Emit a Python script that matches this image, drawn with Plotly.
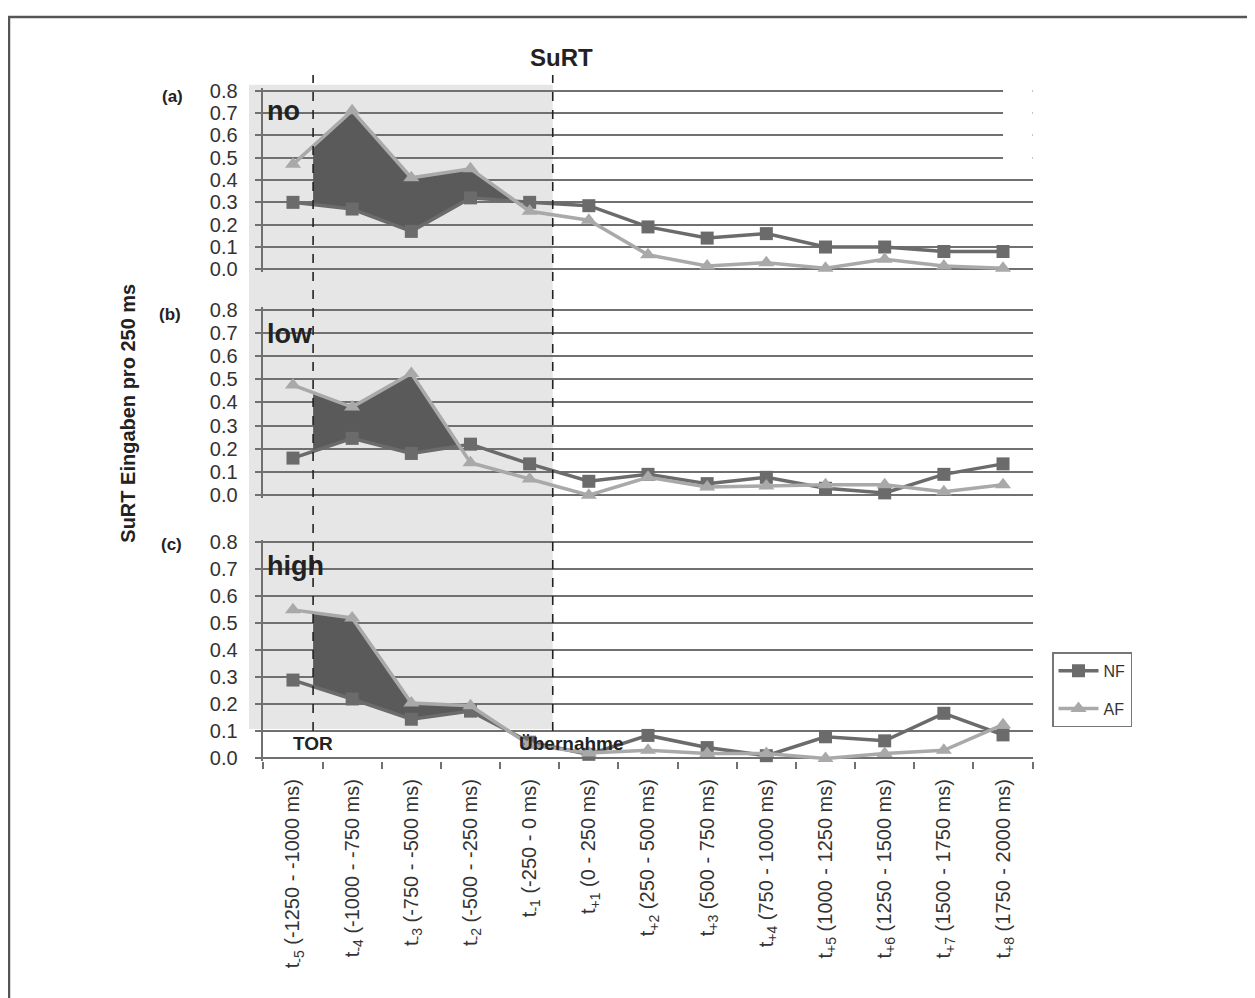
import plotly.graph_objects as go

W, H = 1255, 998
OFF = 8  # page body margin offset compensation (pixels)

# ---------------- data ----------------
sub_labels = ["-5", "-4", "-3", "-2", "-1", "+1", "+2", "+3", "+4", "+5", "+6", "+7", "+8"]
range_labels = ["(-1250 - -1000 ms)", "(-1000 - -750 ms)", "(-750 - -500 ms)", "(-500 - -250 ms)",
                "(-250 - 0 ms)", "(0 - 250 ms)", "(250 - 500 ms)", "(500 - 750 ms)",
                "(750 - 1000 ms)", "(1000 - 1250 ms)", "(1250 - 1500 ms)", "(1500 - 1750 ms)",
                "(1750 - 2000 ms)"]
tick_text = [f"t<sub>{s}</sub> {r}" for s, r in zip(sub_labels, range_labels)]

panel_names = ["no", "low", "high"]
panel_letters = ["(a)", "(b)", "(c)"]
series_names = ["NF", "AF"]

nf_no = [0.30, 0.27, 0.17, 0.32, 0.30, 0.285, 0.19, 0.14, 0.16, 0.10, 0.10, 0.08, 0.08]
af_no = [0.47, 0.71, 0.41, 0.45, 0.26, 0.22, 0.065, 0.015, 0.03, 0.005, 0.045, 0.015, 0.005]
nf_low = [0.16, 0.245, 0.18, 0.22, 0.135, 0.06, 0.09, 0.05, 0.077, 0.03, 0.01, 0.09, 0.135]
af_low = [0.475, 0.38, 0.525, 0.14, 0.07, 0.0, 0.077, 0.035, 0.04, 0.045, 0.045, 0.015, 0.045]
nf_high = [0.29, 0.22, 0.145, 0.175, 0.06, 0.015, 0.085, 0.04, 0.01, 0.08, 0.065, 0.167, 0.087]
af_high = [0.55, 0.52, 0.205, 0.195, 0.05, 0.02, 0.03, 0.018, 0.018, 0.0, 0.018, 0.03, 0.125]

nf_all = [nf_no, nf_low, nf_high]
af_all = [af_no, af_low, af_high]

tor_pos = 0.34        # TOR marker (category units)
takeover_pos = 4.39   # Übernahme marker (category units)

# ---------------- layout geometry ----------------
def px(x):
    return (x - OFF) / W

def py(y):
    return 1 - (y - OFF) / H

X_LEFT, X_RIGHT = 263.4, 1032.6           # pixel extent of the category axis
N = len(sub_labels)
def xpx(v):
    return X_LEFT + (v + 0.5) * (X_RIGHT - X_LEFT) / N

# pixel positions of y=0 and y=0.8 per panel
panel_px = [(265, 83), (495, 306), (763, 543)]
PAD = 0.01

NF_COLOR = "#6b6b6b"
AF_COLOR = "#a9a9a9"
FILL_COLOR = "#5a5a5a"
GRID_COLOR = "#707070"
FONT = "Liberation Sans, Arial, sans-serif"

fig = go.Figure()

yaxis_names = ["y", "y2", "y3"]

def crossing(nf, af, start):
    """first position after start where AF drops below NF (linear interpolation)"""
    i = int(start) + 1
    while i < len(nf):
        d0 = af[i - 1] - nf[i - 1]
        d1 = af[i] - nf[i]
        if d1 <= 0 < d0:
            return (i - 1) + d0 / (d0 - d1)
        i += 1
    return len(nf) - 1

def interp(arr, x):
    i = int(x)
    f = x - i
    if f == 0:
        return arr[i]
    return arr[i] + f * (arr[i + 1] - arr[i])

for k in range(3):
    nf, af = nf_all[k], af_all[k]
    ya = yaxis_names[k]
    xc = crossing(nf, af, tor_pos)
    xs = [tor_pos] + [i for i in range(N) if tor_pos < i < xc] + [xc]
    top = [interp(af, x) for x in xs]
    bot = [interp(nf, x) for x in xs]
    fig.add_trace(go.Scatter(
        x=xs + xs[::-1], y=top + bot[::-1], mode="lines", fill="toself",
        fillcolor=FILL_COLOR, line=dict(width=0), hoverinfo="skip",
        showlegend=False, xaxis="x", yaxis=ya))
    fig.add_trace(go.Scatter(
        x=list(range(N)), y=nf, mode="lines+markers", name=series_names[0],
        line=dict(color=NF_COLOR, width=3.5),
        marker=dict(symbol="square", size=13, color=NF_COLOR),
        showlegend=(k == 0), legendgroup="nf", cliponaxis=False,
        xaxis="x", yaxis=ya))
    fig.add_trace(go.Scatter(
        x=list(range(N)), y=af, mode="lines+markers", name=series_names[1],
        line=dict(color=AF_COLOR, width=3.5),
        marker=dict(symbol="triangle-up", size=14, color=AF_COLOR),
        showlegend=(k == 0), legendgroup="af", cliponaxis=False,
        xaxis="x", yaxis=ya))

layout_axes = {}
for k in range(3):
    p0, p8 = panel_px[k]
    kk = (p0 - p8) / 0.8
    bottom = p0 + PAD * kk
    topp = p8 - PAD * kk
    name = "yaxis" if k == 0 else f"yaxis{k + 1}"
    layout_axes[name] = dict(
        domain=[py(bottom), py(topp)],
        range=[-PAD, 0.8 + PAD],
        tickvals=[i / 10 for i in range(9)],
        ticktext=[f"{i / 10:.1f}" for i in range(9)],
        showgrid=True, gridcolor=GRID_COLOR, gridwidth=1.5,
        zeroline=False,
        showline=True, linecolor=GRID_COLOR, linewidth=1.5,
        ticks="outside", ticklen=7, tickcolor=GRID_COLOR, tickwidth=1.5,
        ticklabelstandoff=13,
        tickfont=dict(family=FONT, size=20, color="#333333"),
        anchor="x", fixedrange=True,
    )

fig.update_layout(
    width=W, height=H, autosize=False,
    margin=dict(l=0, r=0, t=0, b=0),
    paper_bgcolor="white", plot_bgcolor="rgba(0,0,0,0)",
    xaxis=dict(
        domain=[px(X_LEFT), px(X_RIGHT)], range=[-0.5, N - 0.5],
        tickmode="array", tickvals=list(range(N)), ticktext=tick_text,
        tickangle=-90, ticks="", showgrid=False, zeroline=False, showline=False,
        ticklabelstandoff=13,
        tickfont=dict(family=FONT, size=20, color="#333333"),
        minor=dict(tickmode="array", tickvals=[i - 0.5 for i in range(N + 1)],
                   ticks="outside", ticklen=7, tickcolor=GRID_COLOR, tickwidth=1.5,
                   showgrid=False),
        anchor="y3", fixedrange=True,
    ),
    showlegend=True,
    legend=dict(
        x=px(1052), y=py(655), xanchor="left", yanchor="top",
        bgcolor="white", bordercolor="#777777", borderwidth=1.5,
        font=dict(family=FONT, size=16, color="#333333"),
        tracegroupgap=14, itemwidth=40,
    ),
    **layout_axes,
)

shapes = []
# outer frame
shapes.append(dict(type="rect", xref="paper", yref="paper",
                   x0=px(9), x1=px(1253), y0=py(1020), y1=py(8),
                   line=dict(color="#555555", width=2.5), fillcolor="rgba(0,0,0,0)",
                   layer="above"))
# shaded pre-takeover region
shapes.append(dict(type="rect", xref="paper", yref="paper",
                   x0=px(249), x1=px(xpx(takeover_pos)), y0=py(733), y1=py(77),
                   line=dict(width=0), fillcolor="#e6e6e6", layer="below"))
# gridline gap in panel (a)
shapes.append(dict(type="rect", xref="x", yref="y",
                   x0=12.0, x1=13.5, y0=0.45, y1=0.85,
                   line=dict(width=0), fillcolor="white", layer="between"))
# dashed event lines
for xp in (tor_pos, takeover_pos):
    shapes.append(dict(type="line", xref="x", yref="paper",
                       x0=xp, x1=xp, y0=py(735), y1=py(67),
                       line=dict(color="#222222", width=1.6, dash="dash"),
                       layer="above"))
fig.update_layout(shapes=shapes)

ann = []
ann.append(dict(text="<b>SuRT</b>", x=px(561), y=py(49), xref="paper", yref="paper",
                showarrow=False, xanchor="center", yanchor="middle",
                font=dict(family=FONT, size=24, color="#222222")))
ann.append(dict(text="<b>SuRT Eingaben pro 250 ms</b>", x=px(128), y=py(412),
                xref="paper", yref="paper", showarrow=False, textangle=-90,
                xanchor="center", yanchor="middle",
                font=dict(family=FONT, size=20, color="#222222")))
letter_pos = [(172, 89), (170, 311), (171, 545)]
name_pos = [(265, 104), (265, 331), (265, 567)]
for k in range(3):
    ann.append(dict(text=f"<b>{panel_letters[k]}</b>", x=px(letter_pos[k][0]),
                    y=py(letter_pos[k][1]), xref="paper", yref="paper",
                    showarrow=False, xanchor="center", yanchor="middle",
                    font=dict(family=FONT, size=17, color="#222222")))
    ann.append(dict(text=f"<b>{panel_names[k]}</b>", x=px(name_pos[k][0]),
                    y=py(name_pos[k][1]), xref="paper", yref="paper",
                    showarrow=False, xanchor="left", yanchor="middle",
                    font=dict(family=FONT, size=27, color="#222222")))
ann.append(dict(text="<b>TOR</b>", x=px(xpx(tor_pos)), y=py(748), xref="paper", yref="paper",
                showarrow=False, xanchor="center", yanchor="middle",
                font=dict(family=FONT, size=19, color="#222222")))
ann.append(dict(text="<b>Übernahme</b>", x=px(571), y=py(748), xref="paper", yref="paper",
                showarrow=False, xanchor="center", yanchor="middle",
                font=dict(family=FONT, size=19, color="#222222")))
fig.update_layout(annotations=ann)

fig.write_html("out.html")
